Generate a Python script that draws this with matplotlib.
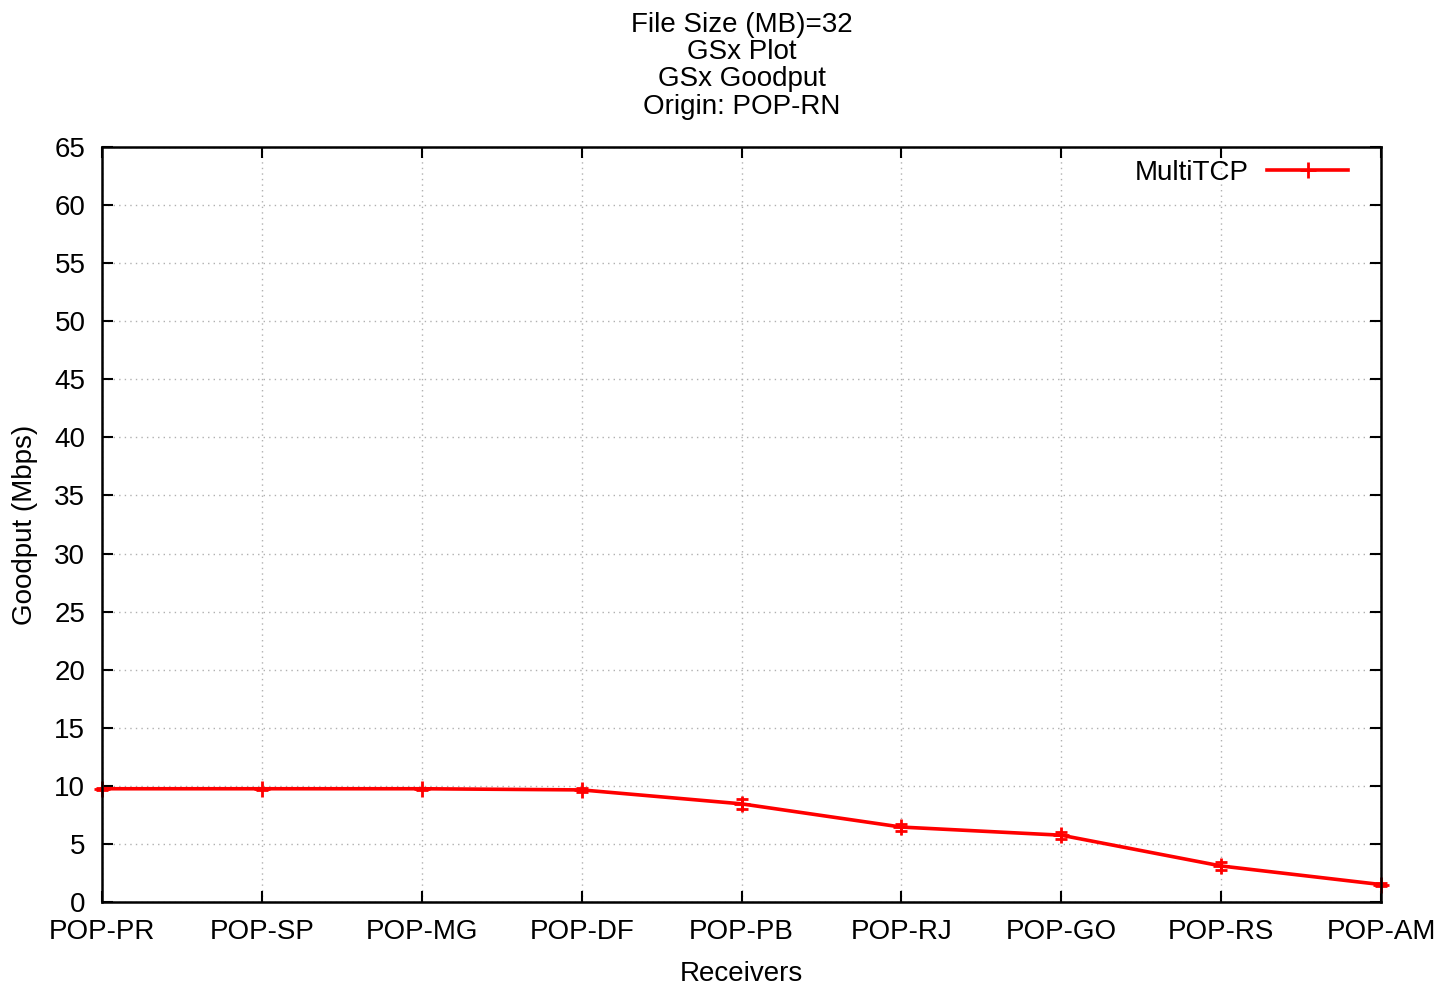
import numpy as np
import matplotlib.pyplot as plt
from matplotlib.lines import Line2D

# goodput per receiver, origin POP-RN, 32 MB file
receivers = ['POP-PR', 'POP-SP', 'POP-MG', 'POP-DF', 'POP-PB', 'POP-RJ', 'POP-GO', 'POP-RS', 'POP-AM']
goodput = [9.75, 9.75, 9.75, 9.65, 8.45, 6.45, 5.75, 3.1, 1.5]
goodput_err = [0.1, 0.1, 0.1, 0.2, 0.45, 0.3, 0.3, 0.35, 0.1]

plt.rcParams['font.family'] = ['Liberation Sans', 'DejaVu Sans']
fs = 20

fig = plt.figure(figsize=(14.35, 9.86), dpi=100)
ax = fig.add_axes([0.0711, 0.0852, 0.8913, 0.7657])

x = np.arange(len(receivers))
ax.errorbar(x, goodput, yerr=goodput_err, color='#ff0000', lw=2.6, marker='+',
            ms=12, mew=2, capsize=4, elinewidth=2.2, clip_on=False)

ax.set_xlim(0, len(receivers) - 1)
ax.set_ylim(0, 65)
ax.set_yticks(np.arange(0, 66, 5))
ax.set_xticks(x)
ax.set_xticklabels(receivers)

ax.grid(True, color='#b0b0b0', linestyle=(0, (1, 3)), lw=1)
ax.tick_params(direction='in', length=8, width=1.5, top=True, right=True,
               labelsize=fs, pad=12)
for s in ax.spines.values():
    s.set_linewidth(1.8)

ax.set_xlabel('Receivers', fontsize=fs, labelpad=12)
ax.set_ylabel('Goodput (Mbps)', fontsize=fs, labelpad=12)
ax.set_title('File Size (MB)=32\nGSx Plot\nGSx Goodput\nOrigin: POP-RN',
             fontsize=fs, linespacing=1.06, pad=24)

handle = Line2D([], [], color='#ff0000', lw=2.6, marker='+', ms=12, mew=2)
ax.legend([handle], ['MultiTCP'], loc='center right', bbox_to_anchor=(0.974, 0.9656),
          frameon=False, fontsize=fs, markerfirst=False, handlelength=2.9,
          handletextpad=0.65, borderpad=0, borderaxespad=0)

fig.savefig('out.png', dpi=100)
